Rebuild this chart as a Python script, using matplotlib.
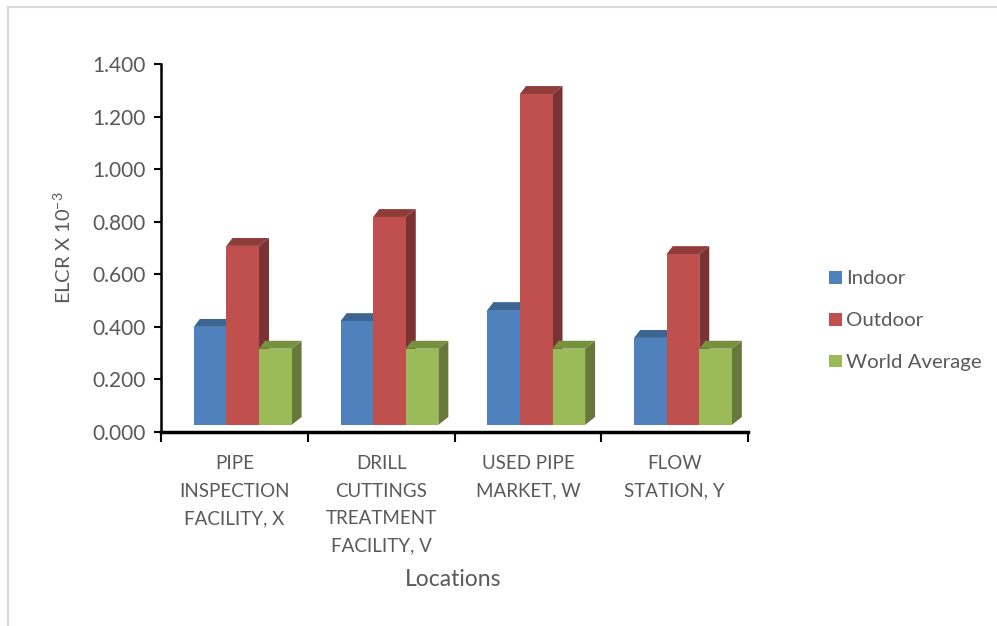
import numpy as np
import matplotlib.pyplot as plt
from matplotlib.patches import Polygon, Patch
from matplotlib.lines import Line2D

plt.rcParams['font.family'] = ['Lato', 'DejaVu Sans']

# data
locations = ['PIPE\nINSPECTION\nFACILITY, X',
             'DRILL\nCUTTINGS\nTREATMENT\nFACILITY, V',
             'USED PIPE\nMARKET, W',
             'FLOW\nSTATION, Y']
series = ['Indoor', 'Outdoor', 'World Average']
indoor = [0.373, 0.395, 0.437, 0.331]
outdoor = [0.681, 0.791, 1.259, 0.650]
world_avg = [0.290, 0.290, 0.290, 0.290]
yticks = [0.0, 0.2, 0.4, 0.6, 0.8, 1.0, 1.2, 1.4]

# front, top, side colours per series
face_cols = ['#4F81BD', '#C0504D', '#9BBB59']
top_cols = ['#3D6591', '#8F3C3A', '#77923F']
side_cols = ['#335680', '#7A3232', '#67793A']

txt = '#595959'

fig = plt.figure(figsize=(9.97, 6.26), dpi=100)
ax = fig.add_axes([161/997, 1-432/626, (748-161)/997, (432-64)/626])

# 3d-ish columns
bw = 0.222
dx, dy = 0.068, 0.030
base = 0.027
vals = [indoor, outdoor, world_avg]
for k, v in enumerate(vals):
    for i, h in enumerate(v):
        x0 = i + 0.224 + k*bw
        x1 = x0 + bw
        top = base + h
        side = Polygon([(x1, base), (x1+dx, base+dy), (x1+dx, top+dy), (x1, top)],
                       closed=True, fc=side_cols[k], ec='none', zorder=2+k)
        lid = Polygon([(x0, top), (x0+dx*0.6, top+dy), (x1+dx, top+dy), (x1, top)],
                      closed=True, fc=top_cols[k], ec='none', zorder=2+k)
        front = Polygon([(x0, base), (x1, base), (x1, top), (x0, top)],
                        closed=True, fc=face_cols[k], ec='none', zorder=2+k)
        ax.add_patch(side)
        ax.add_patch(lid)
        ax.add_patch(front)

ax.set_xlim(0, 4)
ax.set_ylim(0, 1.4)
ax.set_yticks(yticks)
ax.set_yticklabels(['%.3f' % t for t in yticks], fontsize=15, color=txt)
ax.set_xticks([0, 1, 2, 3, 4])
ax.set_xticklabels([])
ax.tick_params(axis='y', direction='out', length=5, width=1.5, pad=6)
ax.tick_params(axis='x', direction='out', length=7, width=1.5)
for i, lab in enumerate(locations):
    ax.text(i + 0.5, -0.088, lab, ha='center', va='top', fontsize=13.5,
            color=txt, linespacing=1.75, transform=ax.transData)

for s in ['top', 'right']:
    ax.spines[s].set_visible(False)
ax.spines['left'].set_linewidth(1.8)
ax.spines['bottom'].set_linewidth(2.5)

fig.text(63/997, 1-248/626, r'ELCR X 10$^{\mathregular{-3}}$', rotation=90,
         ha='center', va='center', fontsize=14.5, color=txt)
fig.text(453/997, 1-580/626, 'Locations', ha='center', va='center',
         fontsize=16.5, color=txt)

handles = [Patch(fc=c, ec='none') for c in face_cols]
leg = fig.legend(handles, series, loc='upper left',
                 bbox_to_anchor=(811/997, 1-252/626), frameon=False,
                 fontsize=14.7, handlelength=0.6, handleheight=0.6,
                 handletextpad=0.2, labelspacing=1.22)
for t in leg.get_texts():
    t.set_color(txt)

# light outer frame (top and left only visible)
fig.add_artist(Line2D([8/997, 1], [1-7/626, 1-7/626], transform=fig.transFigure,
                      color='#D9D9D9', lw=1.5))
fig.add_artist(Line2D([8/997, 8/997], [0, 1-7/626], transform=fig.transFigure,
                      color='#D9D9D9', lw=1.5))

fig.savefig('out.png', dpi=100)
